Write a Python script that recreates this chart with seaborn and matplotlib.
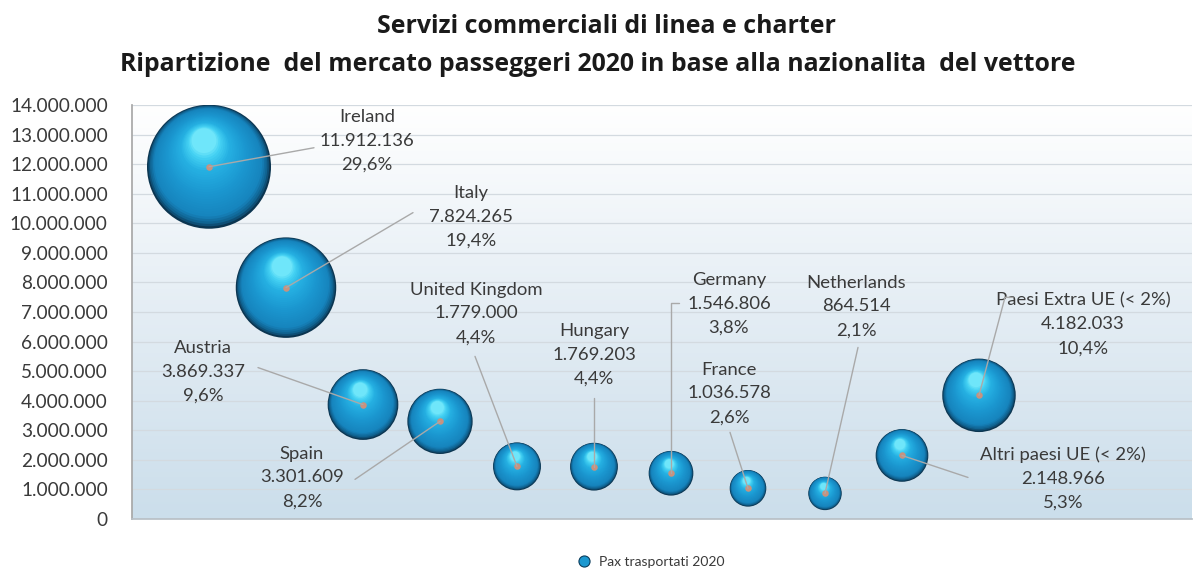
import numpy as np
import pandas as pd
import seaborn as sns
import matplotlib.pyplot as plt
from matplotlib.colors import LinearSegmentedColormap
from matplotlib.lines import Line2D
from matplotlib.ticker import FuncFormatter, MultipleLocator
from matplotlib.transforms import IdentityTransform

sns.set_theme(style='white')
plt.rcParams['font.family'] = ['Lato', 'DejaVu Sans']

# data
paesi = ['Ireland', 'Italy', 'Austria', 'Spain', 'United Kingdom', 'Hungary',
         'Germany', 'France', 'Netherlands', 'Altri paesi UE (< 2%)',
         'Paesi Extra UE (< 2%)']
pax = [11912136, 7824265, 3869337, 3301609, 1779000, 1769203,
       1546806, 1036578, 864514, 2148966, 4182033]
quota = ['29,6%', '19,4%', '9,6%', '8,2%', '4,4%', '4,4%',
         '3,8%', '2,6%', '2,1%', '5,3%', '10,4%']

# label placement (pixels from bubble centre): text centre, leader polyline
text_off = [(158, 26), (185, 71), (-160, 33), (-138, -56), (-41, 153), (0, 112),
            (58, 169), (-19, 95), (31, 187), (161, -23), (104, 71)]
leader_off = [[(105, 19)], [(127, 75)], [(-105, 37)], [(-85, -58)], [(-42, 110)],
              [(0, 69)], [(0, 170), (8, 170)], [(-18, 56)], [(33, 146)],
              [(66, -22)], [(26, 98), (34, 98)]]

df = pd.DataFrame({'paese': paesi, 'pax': pax, 'quota': quota})
df['pos'] = np.arange(1, len(df) + 1)

fig = plt.figure(figsize=(11.97, 5.71), dpi=100)
ax = fig.add_axes([132 / 1197, 1 - 519 / 571, 1060 / 1197, 414 / 571])
XMAX, YMAX = 1060 / 77, 14_000_000
ax.set_xlim(0, XMAX)
ax.set_ylim(0, YMAX)

# plot-area gradient (white top -> pale blue bottom)
grad = LinearSegmentedColormap.from_list('bg', ['#cbdeeb', '#e4edf4', '#ffffff'])
ax.imshow(np.linspace(0, 1, 256).reshape(-1, 1), cmap=grad, aspect='auto',
          extent=(0, XMAX, 0, YMAX), origin='lower', zorder=0)

ax.yaxis.set_major_locator(MultipleLocator(1_000_000))
ax.yaxis.set_major_formatter(FuncFormatter(lambda v, p: f"{int(v):,}".replace(',', '.')))
ax.grid(axis='y', color='#d3dae0', lw=0.9, zorder=1)
ax.set_axisbelow(True)
ax.set_xticks([])
ax.tick_params(axis='y', labelsize=13.7, labelcolor='#3a3a3a', pad=17.5, length=0)
for s in ['top', 'right']:
    ax.spines[s].set_visible(False)
ax.spines['left'].set_color('#a8a8a8')
ax.spines['bottom'].set_color('#b8c0c6')

# shaded spheres: stack of shrinking discs, shifted toward the highlight
SMAX = (62 * 0.72 * 2) ** 2          # Ireland bubble area in pt^2
sphere = LinearSegmentedColormap.from_list(
    'sph', [(0, '#0b3550'), (0.05, '#0f5f8c'), (0.15, '#1684bd'),
            (0.45, '#1b97d0'), (0.75, '#25b0e2'), (0.92, '#45d2f3'), (1, '#6fe6fa')])
r_px = 62 * np.sqrt(df['pax'] / df['pax'].max())
hx, hy = -0.08, 0.42
n_layers = 32
for k in range(n_layers):
    t = k / (n_layers - 1)
    f = 1 - 0.8 * t
    layer = df.copy()
    layer['x'] = df['pos'] + (1 - f) * hx * r_px / 77 / 0.8
    layer['y'] = df['pax'] + (1 - f) * hy * r_px * YMAX / 414 / 0.8
    sns.scatterplot(data=layer, x='x', y='y', size='pax', sizes=(0, SMAX * f ** 2),
                    size_norm=(0, df['pax'].max()), color=sphere(t),
                    linewidth=0, legend=False, ax=ax, zorder=3)

# leader lines in pixel space
centres = ax.transData.transform(np.column_stack([df['pos'], df['pax']]))
for (cx, cy), pts in zip(centres, leader_off):
    xs = [cx] + [cx + dx for dx, dy in pts]
    ys = [cy] + [cy + dy for dx, dy in pts]
    fig.add_artist(Line2D(xs, ys, transform=IdentityTransform(),
                          color='#a9a9a9', lw=1.0, zorder=4))

sns.scatterplot(data=df, x='pos', y='pax', color='#c8927f', s=22, linewidth=0,
                legend=False, ax=ax, zorder=5)

for (_, r), (dx, dy) in zip(df.iterrows(), text_off):
    val = f"{r['pax']:,}".replace(',', '.')
    ax.annotate(f"{r['paese']}\n{val}\n{r['quota']}", xy=(r['pos'], r['pax']),
                xytext=(dx, dy), textcoords='offset pixels', ha='center',
                va='center', fontsize=13.3, color='#3a3a3a', linespacing=1.6,
                zorder=6)

ax.set_xlabel('')
ax.set_ylabel('')
ax.set_xlim(0, XMAX)
ax.set_ylim(0, YMAX)

title_font = dict(ha='center', va='baseline', fontsize=17.9, fontweight='bold',
                  color='#1a1a1a', family=['Open Sans', 'DejaVu Sans'])
fig.text(606 / 1197, 1 - 33 / 571, 'Servizi commerciali di linea e charter', **title_font)
fig.text(598 / 1197, 1 - 71 / 571,
         'Ripartizione  del mercato passeggeri 2020 in base alla nazionalita  del vettore',
         **title_font)

handle = Line2D([], [], marker='o', ls='', ms=8, markerfacecolor='#1b98d0',
                markeredgecolor='#0b3d5c', markeredgewidth=0.8)
fig.legend([handle], ['Pax trasportati 2020'], loc='center',
           bbox_to_anchor=(0.541, 1 - 562 / 571), frameon=False, fontsize=10,
           handletextpad=0.05, labelcolor='#3a3a3a')

fig.savefig('out.png', dpi=100)
